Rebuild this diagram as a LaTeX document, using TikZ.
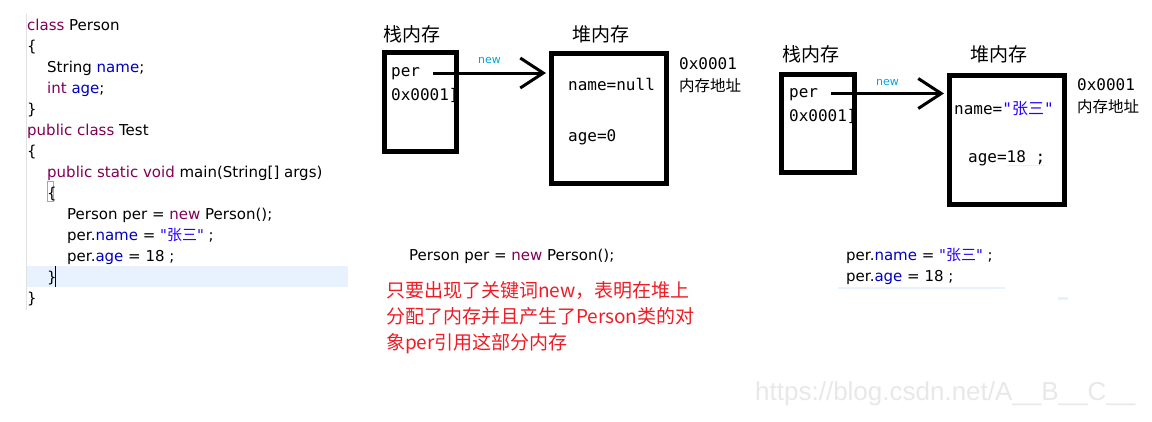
\documentclass[tikz,border=0pt]{standalone}
\usepackage{fontspec}
\setmainfont{DejaVu Sans}[Ligatures=TeXOff]
\newfontfamily\cjk{Noto Sans CJK SC}
\newfontfamily\mono{DejaVu Sans Mono}
\newfontfamily\wmfont{Liberation Sans}
\usepackage{tikz}
\usetikzlibrary{arrows.meta}
\definecolor{kwcol}{HTML}{7F0055}
\definecolor{fldcol}{HTML}{0000C0}
\definecolor{strcol}{HTML}{2A00FF}
\definecolor{newcol}{HTML}{00A2E8}
\definecolor{redtxt}{HTML}{EE1C25}
\definecolor{hilite}{HTML}{E8F2FE}
\newcommand{\kw}[1]{\textcolor{kwcol}{#1}}
\newcommand{\fld}[1]{\textcolor{fldcol}{#1}}
\newcommand{\strg}[1]{\textcolor{strcol}{#1}}
\newcommand{\dq}{\char34\relax}

\begin{document}
\begin{tikzpicture}
[x=1pt,y=-1pt,
 mem/.style={draw,line width=5pt,inner sep=0pt},
 code/.style={anchor=base west,inner sep=0pt,font=\fontsize{15}{15}\selectfont},
 cell/.style={anchor=base west,inner sep=0pt,font=\mono\fontsize{16}{16}\selectfont},
 head/.style={anchor=base west,inner sep=0pt,font=\cjk\fontsize{19}{19}\selectfont},
 addr/.style={anchor=base west,inner sep=0pt,font=\cjk\fontsize{15.5}{15.5}\selectfont},
 note/.style={anchor=base west,inner sep=0pt,font=\cjk\fontsize{19}{19}\selectfont,text=redtxt},
 newlbl/.style={anchor=base west,inner sep=0pt,font=\fontsize{11}{11}\selectfont,text=newcol},
 ptr/.style={line width=3pt,shorten >=3pt,-{Straight Barb[length=23pt,width=30pt]}}]
\useasboundingbox (0,0) rectangle (1152,421);

% source code
\fill[hilite] (27,266) rectangle (348,287);
\draw[black!12] (26.5,14) -- (26.5,310);
\draw[black!35] (47,181.5) rectangle (53,201.5);
\node[code] (c1) at (27,30.7) {\kw{class} Person};
\node[code] (c2) at (27,51.7) {\{};
\node[code] (c3) at (47,72.7) {String \fld{name};};
\node[code] (c4) at (47,93.7) {\kw{int} \fld{age};};
\node[code] (c5) at (27,114.7) {\}};
\node[code] (c6) at (27,135.7) {\kw{public class} Test};
\node[code] (c7) at (27,156.7) {\{};
\node[code] (c8) at (47,177.7) {\kw{public static void} main(String[] args)};
\node[code] (c9) at (47,198.7) {\{};
\node[code] (c10) at (67,219.7) {Person per = \kw{new} Person();};
\node[code] (c11) at (67,240.7) {per.\fld{name} = \strg{\dq{\cjk 张三}\dq} ;};
\node[code] (c12) at (67,261.7) {per.\fld{age} = 18 ;};
\node[code] (c13) at (47,282.7) {\}};
\node[code] (c14) at (27,303.7) {\}};
\draw[line width=1pt] (55,266) -- (55,287);

% after new
\node[head] (h1) at (383,41) {栈内存};
\node[head] (h2) at (572,41) {堆内存};
\node[cell] (per1) at (391,76) {per};
\node[cell] (ref1) at (391,100) {0x0001]};
\node[cell] (name1) at (568,90) {name=null};
\node[cell] (age1) at (568,141.7) {age=0};
\node[cell] (hex1) at (679,69) {0x0001};
\node[addr] (lbl1) at (679,91) {内存地址};
\node[newlbl] (new1) at (478,63.3) {new};
\node[mem,minimum width=72pt,minimum height=99pt] (stack1) at (420.5,102) {};
\node[mem,minimum width=115pt,minimum height=130pt] (heap1) at (609,118.5) {};
\coordinate (s1) at (433,73);

% after assignment
\node[head] (h3) at (782,61) {栈内存};
\node[head] (h4) at (970,61) {堆内存};
\node[cell] (per2) at (789,97.3) {per};
\node[cell] (ref2) at (789,121.7) {0x0001]};
\node[cell] (name2) at (954,114) {name=\strg{\dq{\cjk 张三}\dq}};
\node[cell] (age2) at (968,162.3) {age=18 ;};
\node[cell] (hex2) at (1077,90) {0x0001};
\node[addr] (lbl2) at (1077,112) {内存地址};
\node[newlbl] (new2) at (876,85) {new};
\draw[hilite,line width=1.5pt] (1007,165.5) -- (1044,165.5);
\node[mem,minimum width=73pt,minimum height=98pt] (stack2) at (818,123.5) {};
\node[mem,minimum width=115pt,minimum height=129pt] (heap2) at (1007,140) {};
\coordinate (s2) at (831,93.5);

\foreach \from/\to in {s1/heap1,s2/heap2}
\draw[ptr] (\from) -- (\from -| \to.west);

% captions
\node[code] (stmt) at (409,260.7) {Person per = \kw{new} Person();};
\node[note] (n1) at (386,297) {只要出现了关键词new，表明在堆上};
\node[note] (n2) at (386,323.5) {分配了内存并且产生了Person类的对};
\node[note] (n3) at (386,349.5) {象per引用这部分内存};
\node[code] (set1) at (846,260.7) {per.\fld{name} = \strg{\dq{\cjk 张三}\dq} ;};
\node[code] (set2) at (846,281.7) {per.\fld{age} = 18 ;};
\draw[hilite,line width=2pt] (838,288) -- (1005,288);
\fill[hilite] (1058,297) rectangle (1068,299.5);

\node[anchor=base west,inner sep=0pt,font=\wmfont\fontsize{26}{26}\selectfont,text=black!9] (wm) at (755,400) {https://blog.csdn.net/A\_\_B\_\_C\_\_};
\end{tikzpicture}
\end{document}
